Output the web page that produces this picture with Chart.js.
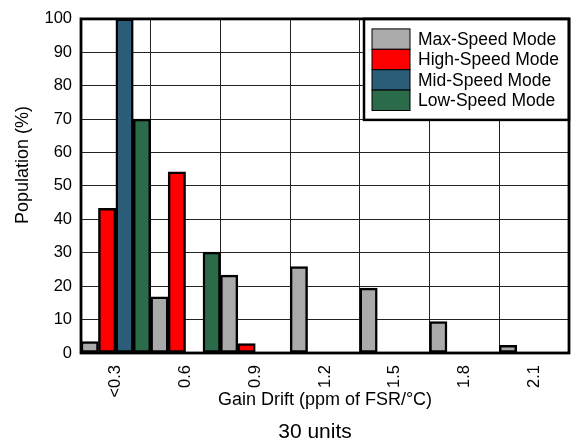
<!DOCTYPE html>
<html>
<head>
<meta charset="utf-8">
<script src="https://cdn.jsdelivr.net/npm/chart.js@4.4.0/dist/chart.umd.min.js"></script>
<style>
    body { margin: 0; background: #fff; }
    canvas { display: block; }
</style>
</head>
<body>
<canvas id="gainChart" width="573" height="446"></canvas>
<script>
// Dados (população em %)
const categorias = ['<0.3', '0.6', '0.9', '1.2', '1.5', '1.8', '2.1'];
const maxSpeed  = [3.4, 16.8, 23.3, 25.9, 19.4, 9.4, 2.3];
const highSpeed = [43.3, 54.2, 2.8, 0, 0, 0, 0];
const midSpeed  = [100, 0, 0, 0, 0, 0, 0];
const lowSpeed  = [70, 30.2, 0, 0, 0, 0, 0];
const yMin = 0, yMax = 100, yStep = 10;

const fonte = '"Liberation Sans", Arial, sans-serif';
Chart.defaults.font.family = fonte;
Chart.defaults.color = '#000';

// Moldura, legenda e textos extras
const extras = {
    id: 'extras',
    afterDraw(chart) {
        const { ctx, chartArea: a } = chart;
        ctx.save();

        // legenda dentro do gráfico
        const lw = 205, lh = 101;
        const lx = a.right - lw, ly = a.top;
        ctx.fillStyle = '#fff';
        ctx.fillRect(lx, ly, lw, lh);
        ctx.font = '17.5px ' + fonte;
        ctx.textBaseline = 'middle';
        chart.data.datasets.forEach((ds, i) => {
            const y = ly + 10 + i * 20.4;
            ctx.fillStyle = ds.backgroundColor;
            ctx.fillRect(lx + 8, y, 38, 20.4);
            ctx.strokeStyle = '#000';
            ctx.lineWidth = 1;
            ctx.strokeRect(lx + 8, y, 38, 20.4);
            ctx.fillStyle = '#000';
            ctx.fillText(ds.label, lx + 54, y + 11);
        });
        ctx.lineWidth = 2.5;
        ctx.strokeRect(lx, ly, lw, lh);

        // moldura
        ctx.lineWidth = 2.8;
        ctx.strokeRect(a.left, a.top, a.right - a.left, a.bottom - a.top);

        // título do eixo Y
        ctx.save();
        ctx.translate(23, 165);
        ctx.rotate(-Math.PI / 2);
        ctx.textAlign = 'center';
        ctx.font = '18px ' + fonte;
        ctx.fillText('Population (%)', 0, 0);
        ctx.restore();

        // rodapé
        ctx.textAlign = 'center';
        ctx.font = '21px ' + fonte;
        ctx.fillText('30 units', 315, 432);
        ctx.restore();
    }
};

const ctx = document.getElementById('gainChart').getContext('2d');
new Chart(ctx, {
    type: 'bar',
    data: {
        labels: categorias,
        datasets: [
            { label: 'Max-Speed Mode', data: maxSpeed, backgroundColor: '#AAAAAA' },
            { label: 'High-Speed Mode', data: highSpeed, backgroundColor: '#FF0000' },
            { label: 'Mid-Speed Mode', data: midSpeed, backgroundColor: '#2B5D78' },
            { label: 'Low-Speed Mode', data: lowSpeed, backgroundColor: '#2A6B49' }
        ].map(ds => Object.assign(ds, {
            borderColor: '#000',
            borderWidth: 2.5,
            borderSkipped: false,
            barPercentage: 1,
            categoryPercentage: 1
        }))
    },
    options: {
        responsive: false,
        animation: false,
        layout: { padding: { left: 0, right: 4, top: 10, bottom: 35 } },
        plugins: {
            legend: { display: false },
            tooltip: { enabled: false }
        },
        scales: {
            x: {
                grid: { color: '#222', lineWidth: 1, drawTicks: false, offset: true },
                border: { display: false },
                ticks: { color: '#000', font: { size: 16.5 }, minRotation: 90, maxRotation: 90, padding: 12, autoSkip: false },
                title: { display: true, text: 'Gain Drift (ppm of FSR/°C)', color: '#000', font: { size: 18 }, padding: 0 },
                afterFit(scale) { scale.height = 58; }
            },
            y: {
                min: yMin,
                max: yMax,
                grid: { color: '#222', lineWidth: 1, drawTicks: false },
                border: { display: false },
                ticks: { stepSize: yStep, color: '#000', font: { size: 16.5 }, padding: 9 },
                afterFit(scale) { scale.width = 81; }
            }
        }
    },
    plugins: [extras]
});
</script>
</body>
</html>
